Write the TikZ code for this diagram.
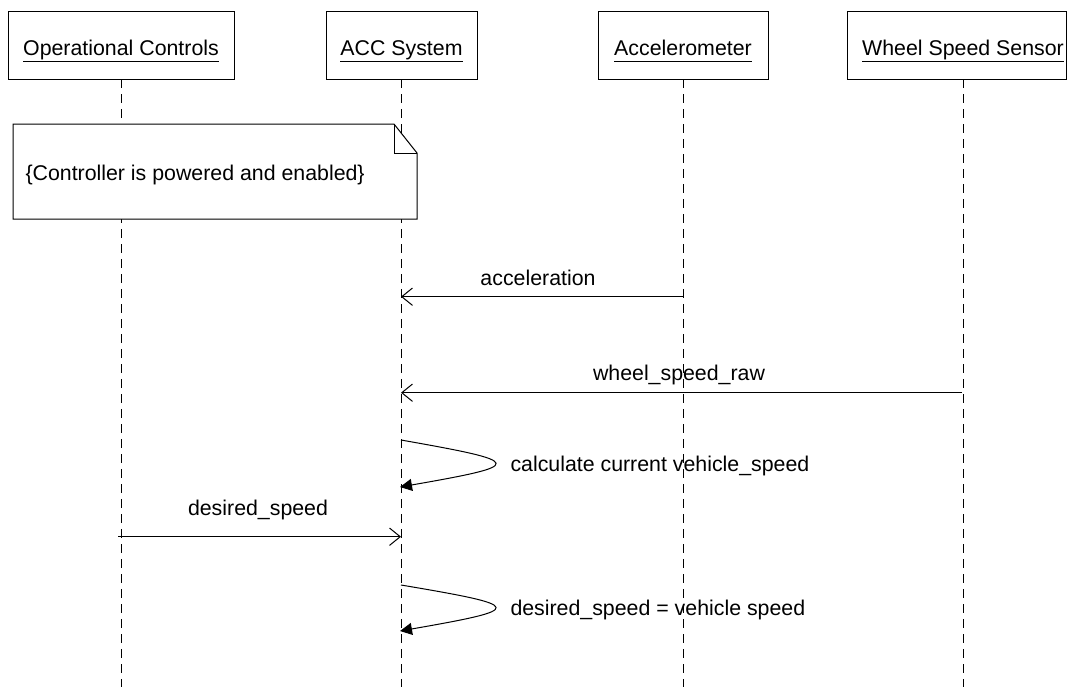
\documentclass[tikz,border=0pt]{standalone}
\usepackage{fontspec}
\setmainfont{Liberation Sans}
\usetikzlibrary{arrows.meta}
\newcommand\myul[1]{\setbox0\hbox{#1}\rlap{\rule[-5pt]{\wd0}{0.75pt}}\box0}
\begin{document}
\begin{tikzpicture}[x=0.75pt,y=-0.75pt,line width=0.75pt,
  every node/.style={font=\fontsize{16}{19}\selectfont, inner sep=0pt},
  head/.style={draw, fill=white, minimum height=51pt, text height=15pt, text depth=0pt},
  life/.style={dash pattern=on 6.75pt off 4.5pt},
  msg/.style={-{Straight Barb[length=8pt,width=13pt]}},
  selfmsg/.style={-{Triangle[length=9pt,width=9pt]}},
  lbl/.style={anchor=base}]
\useasboundingbox (0,0) rectangle (1073,687);
\coordinate (bottom) at (0,687);
% header boxes
\node[head, minimum width=169.5pt] (h1) at (121,45) {\myul{Operational Controls}};
\node[head, minimum width=113.25pt] (h2) at (401.5,45) {\myul{ACC System}};
\node[head, minimum width=127.5pt] (h3) at (683,45) {\myul{Accelerometer}};
\node[head, minimum width=164.25pt] (h4) at (956.5,45) {\hspace*{9.75pt}\myul{Wheel Speed Sensor}};
% lifeline anchors
\coordinate (l1) at (121,79);
\coordinate (l2) at (401,79);
\coordinate (l3) at (683,79);
\coordinate (l4) at (963,79);
\draw[life] (l1) -- (l1 |- bottom);
\draw[life] (l2) -- (l2 |- bottom);
\draw[life] (l3) -- (l3 |- bottom);
\draw[life] (l4) -- (l4 |- bottom);
% note
\draw[fill=white] (13,124) -- (394,124) -- (417,153) -- (417,219) -- (13,219) -- cycle;
\draw (394,124) -- (394,153) -- (417,153);
\node[anchor=base west] (note) at (25,180) {\{Controller is powered and enabled\}};
% messages
\coordinate (acc3) at (683,296.7);
\coordinate (acc2) at (401,296.7);
\draw[msg] (acc3) -- (acc2);
\node[lbl] (accl) at (538,285) {acceleration};
\coordinate (wsr4) at (962,392.7);
\coordinate (wsr2) at (401,392.7);
\draw[msg] (wsr4) -- (wsr2);
\node[lbl] (wsrl) at (679,380) {wheel\_speed\_raw};
% self message 1
\coordinate (s1a) at (401,440);
\coordinate (s1b) at (400,487);
\draw[selfmsg] (s1a) .. controls (526,462) and (526,465) .. (s1b);
\node[anchor=base west] (s1l) at (510,471) {calculate current vehicle\_speed};
% desired speed
\coordinate (ds1) at (118,536.7);
\coordinate (ds2) at (401,536.7);
\draw[msg] (ds1) -- (ds2);
\node[lbl] (dsl) at (258,515) {desired\_speed};
% self message 2
\coordinate (s2a) at (401,585);
\coordinate (s2b) at (400,631);
\draw[selfmsg] (s2a) .. controls (526,606) and (526,609) .. (s2b);
\node[anchor=base west] (s2l) at (510,615.5) {desired\_speed = vehicle speed};
\end{tikzpicture}
\end{document}
